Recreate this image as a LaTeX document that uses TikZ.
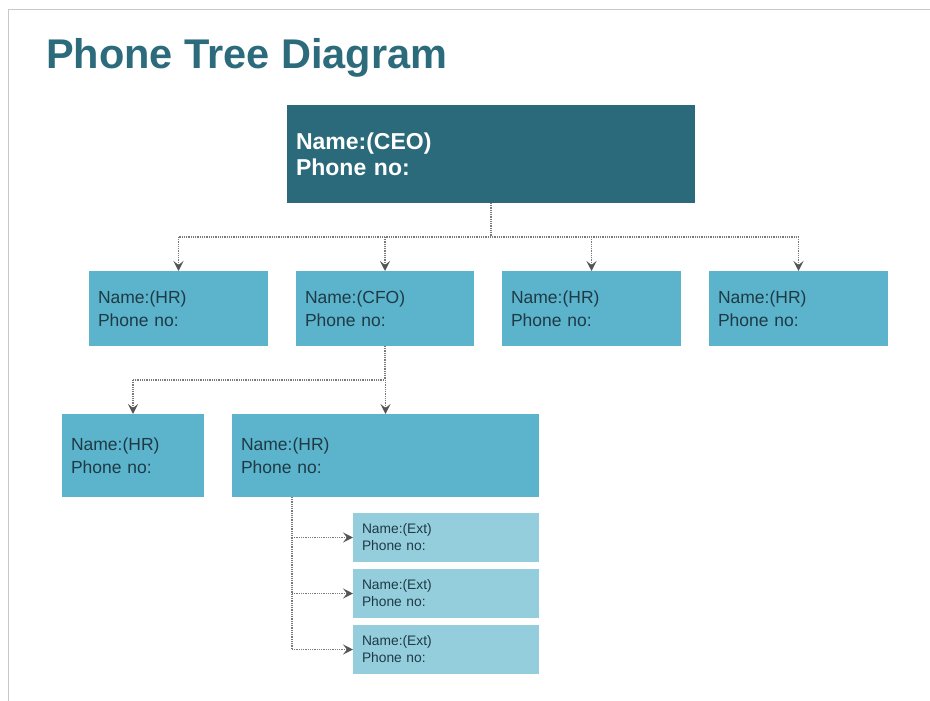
\documentclass[tikz,border=0pt]{standalone}
\usepackage{fontspec}
\setmainfont{Liberation Sans}
\usetikzlibrary{arrows.meta,calc}
\definecolor{titleC}{HTML}{2B6B7B}
\definecolor{ceoC}{HTML}{2A6A7A}
\definecolor{midC}{HTML}{5BB4CC}
\definecolor{extC}{HTML}{94CEDD}
\definecolor{txtC}{HTML}{1F3A45}
\definecolor{lineC}{HTML}{7A7A7A}
\definecolor{tipC}{HTML}{555555}
\definecolor{bordC}{HTML}{C8C8C8}
\begin{document}
\begin{tikzpicture}[x=1pt,y=-1pt,
  box/.style={anchor=north west, inner xsep=9pt, inner ysep=0pt, align=left, outer sep=0pt},
  ceobox/.style={box, fill=ceoC, text=white, font=\bfseries\fontsize{23}{26}\selectfont, text width=390pt, minimum height=98pt},
  midbox/.style={box, fill=midC, text=txtC, font=\fontsize{17.5}{22.5}\selectfont, minimum height=#1},
  extbox/.style={box, fill=extC, text=txtC, font=\fontsize{13.8}{17}\selectfont, text width=168pt, minimum height=49pt},
  dl/.style={draw=lineC, line width=1.4pt, dash pattern=on 1pt off 0.8pt},
  dla/.style={dl, -{Stealth[length=10pt,width=10pt,inset=4pt,color=tipC]}}]
\useasboundingbox (0,0) rectangle (930,701);
\fill[white] (0,0) rectangle (930,701);
\draw[bordC, line width=1.5pt] (8.5,701) -- (8.5,9.5) -- (930,9.5);

\node[anchor=base west, font=\bfseries\fontsize{41.5}{41.5}\selectfont, text=titleC, inner sep=0pt] (title) at (46,69) {Phone Tree Diagram};

\node[ceobox] (ceo) at (287,105) {Name:(CEO)\\Phone no:};

\node[midbox=75pt, text width=161pt] (hr1) at (89,271) {Name:(HR)\\Phone no:};
\node[midbox=75pt, text width=160pt] (cfo) at (296,271) {Name:(CFO)\\Phone no:};
\node[midbox=75pt, text width=161pt] (hr2) at (502,271) {Name:(HR)\\Phone no:};
\node[midbox=75pt, text width=161pt] (hr4) at (709,271) {Name:(HR)\\Phone no:};

\node[midbox=83pt, text width=124pt] (hr5) at (62,414) {Name:(HR)\\Phone no:};
\node[midbox=83pt, text width=289pt] (hr6) at (232,414) {Name:(HR)\\Phone no:};

\node[extbox] (ext1) at (353,513) {Name:(Ext)\\Phone no:};
\node[extbox] (ext2) at (353,569) {Name:(Ext)\\Phone no:};
\node[extbox] (ext3) at (353,625) {Name:(Ext)\\Phone no:};

% CEO -> level 2
\coordinate (bus1) at (0,237);
\draw[dl] (ceo.south) -- (ceo.south |- bus1);
\draw[dl] (hr1.north |- bus1) -- (hr4.north |- bus1);
\foreach \n in {hr1,cfo,hr2,hr4} \draw[dla] (\n.north |- bus1) -- (\n.north);

% CFO -> level 3
\coordinate (bus2) at (0,380);
\draw[dl] (cfo.south) -- (cfo.south |- bus2);
\draw[dl] (hr5.north |- bus2) -- (cfo.south |- bus2);
\foreach \n in {hr5,hr6} \draw[dla] (\n.north |- bus2) -- (\n.north);

% HR -> Ext
\coordinate (trunk) at ($(hr6.south west)+(60,0)$);
\draw[dl] (trunk) -- (trunk |- ext3.west);
\foreach \n in {ext1,ext2,ext3} \draw[dla] (trunk |- \n.west) -- (\n.west);
\end{tikzpicture}
\end{document}
